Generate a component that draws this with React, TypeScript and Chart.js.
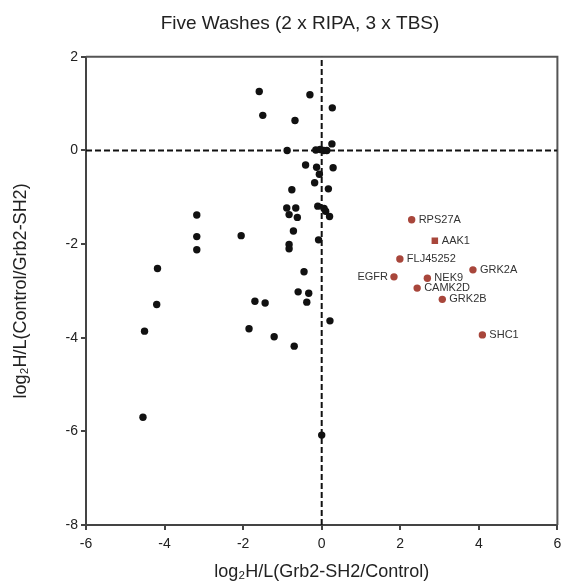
import React, { useEffect, useRef } from "react";
import { Chart, registerables } from "chart.js";

Chart.register(...registerables);

const chartTitle = "Five Washes (2 x RIPA, 3 x TBS)";
const xAxisTitle = "log₂H/L(Grb2-SH2/Control)";
const yAxisTitle = "log₂H/L(Control/Grb2-SH2)";
const xTicks = [-6, -4, -2, 0, 2, 4, 6];
const yTicks = [2, 0, -2, -4, -6, -8];
const xRange = [-6, 6];
const yRange = [-8, 2];

// background proteins (black)
const otherX = [
  -1.59, -0.3, -1.5, -0.68, 0.27, 0.26, -0.88, -0.15, -0.04, 0.05, 0.13,
  -0.41, -0.13, -0.06, -0.18, 0.29, -0.76, 0.17, -0.1, 0.06, 0.1, 0.2,
  -0.89, -0.66, -0.83, -0.62, -3.18, -3.18, -3.18, -2.05, -0.72, -0.08,
  -0.83, -0.83, -4.18, -4.2, -4.51, -4.55, -0.45, -0.6, -0.33, -0.38,
  -1.7, -1.44, -1.85, -1.21, -0.7, 0.21, 0.0,
];
const otherY = [
  1.26, 1.19, 0.75, 0.64, 0.91, 0.14, 0.0, 0.01, 0.02, 0.0, 0.0,
  -0.31, -0.36, -0.51, -0.69, -0.37, -0.84, -0.82, -1.19, -1.24, -1.3, -1.41,
  -1.23, -1.23, -1.37, -1.43, -1.38, -1.84, -2.12, -1.82, -1.72, -1.91,
  -2.01, -2.1, -2.52, -3.29, -3.86, -5.7, -2.59, -3.02, -3.05, -3.24,
  -3.22, -3.26, -3.81, -3.98, -4.18, -3.64, -6.08,
];

// highlighted proteins (red)
const hitNames = ["RPS27A", "AAK1", "FLJ45252", "GRK2A", "EGFR", "NEK9", "CAMK2D", "GRK2B", "SHC1"];
const hitX = [2.29, 2.88, 1.99, 3.85, 1.84, 2.69, 2.43, 3.07, 4.09];
const hitY = [-1.48, -1.93, -2.32, -2.55, -2.7, -2.73, -2.94, -3.18, -3.94];
const leftLabelNames = ["EGFR"];
const squareNames = ["AAK1"];

const FONT = "'Liberation Sans', Arial, Helvetica, sans-serif";

const framePlugin = {
  id: "frameAndLabels",
  beforeDatasetsDraw(chart: any) {
    const { ctx, chartArea } = chart;
    ctx.save();
    ctx.strokeStyle = "#555";
    ctx.lineWidth = 2;
    ctx.beginPath();
    ctx.moveTo(chartArea.left, chartArea.top);
    ctx.lineTo(chartArea.right, chartArea.top);
    ctx.lineTo(chartArea.right, chartArea.bottom);
    ctx.stroke();
    ctx.restore();
  },
  afterDatasetsDraw(chart: any) {
    const { ctx } = chart;
    const idx = chart.data.datasets.findIndex((d: any) => d.label === "hits");
    if (idx < 0) return;
    const meta = chart.getDatasetMeta(idx);
    ctx.save();
    ctx.font = `11px ${FONT}`;
    ctx.fillStyle = "#333";
    ctx.textBaseline = "middle";
    meta.data.forEach((pt: any, i: number) => {
      const name = hitNames[i];
      if (leftLabelNames.includes(name)) {
        ctx.textAlign = "right";
        ctx.fillText(name, pt.x - 6, pt.y);
      } else {
        ctx.textAlign = "left";
        ctx.fillText(name, pt.x + 7, pt.y);
      }
    });
    ctx.restore();
  },
};

export default function App() {
  const ref = useRef<HTMLCanvasElement | null>(null);

  useEffect(() => {
    if (!ref.current) return;
    const chart = new Chart(ref.current, {
      type: "scatter",
      data: {
        datasets: [
          {
            label: "hline",
            data: xRange.map((x) => ({ x, y: 0 })),
            showLine: true,
            borderColor: "#111",
            borderWidth: 2,
            borderDash: [6, 3],
            pointRadius: 0,
            order: 10,
          },
          {
            label: "vline",
            data: yRange.map((y) => ({ x: 0, y })),
            showLine: true,
            borderColor: "#111",
            borderWidth: 2,
            borderDash: [6, 3],
            pointRadius: 0,
            order: 10,
          },
          {
            label: "others",
            data: otherX.map((x, i) => ({ x, y: otherY[i] })),
            backgroundColor: "#111",
            borderColor: "#111",
            pointRadius: 3.7,
            borderWidth: 0,
            order: 2,
          },
          {
            label: "hits",
            data: hitX.map((x, i) => ({ x, y: hitY[i] })),
            backgroundColor: "#a8463b",
            borderColor: "#a8463b",
            pointRadius: hitNames.map((n) => (squareNames.includes(n) ? 4.6 : 3.7)),
            pointStyle: hitNames.map((n) => (squareNames.includes(n) ? "rect" : "circle")),
            borderWidth: 0,
            order: 1,
          },
        ],
      },
      options: {
        responsive: false,
        animation: false,
        devicePixelRatio: 1,
        layout: { padding: { left: 38, right: 0, top: 0, bottom: 0 } },
        plugins: {
          legend: { display: false },
          tooltip: { enabled: false },
          title: {
            display: true,
            text: chartTitle,
            color: "#222",
            font: { family: FONT, size: 19, weight: "normal" },
            padding: { top: 12, bottom: 22 },
          },
        },
        scales: {
          x: {
            type: "linear",
            min: xRange[0],
            max: xRange[1],
            afterBuildTicks: (s: any) => {
              s.ticks = xTicks.map((v) => ({ value: v }));
            },
            afterFit: (s: any) => {
              s.height = 58;
              s.paddingRight = 4;
            },
            ticks: {
              color: "#222",
              font: { family: FONT, size: 14 },
              padding: 6,
              maxRotation: 0,
            },
            grid: {
              display: true,
              drawOnChartArea: false,
              drawTicks: true,
              tickLength: 5,
              color: "#444",
              lineWidth: 2,
            },
            border: { display: true, color: "#444", width: 2 },
            title: {
              display: true,
              text: xAxisTitle,
              color: "#222",
              font: { family: FONT, size: 18 },
              padding: { top: 0, bottom: 0 },
            },
          },
          y: {
            type: "linear",
            min: yRange[0],
            max: yRange[1],
            afterBuildTicks: (s: any) => {
              s.ticks = yTicks.map((v) => ({ value: v }));
            },
            afterFit: (s: any) => {
              s.width = 48;
            },
            ticks: {
              color: "#222",
              font: { family: FONT, size: 14 },
              padding: 3,
            },
            grid: {
              display: true,
              drawOnChartArea: false,
              drawTicks: true,
              tickLength: 5,
              color: "#444",
              lineWidth: 2,
            },
            border: { display: true, color: "#444", width: 2 },
            title: {
              display: true,
              text: yAxisTitle,
              color: "#222",
              font: { family: FONT, size: 18 },
              padding: { top: -28, bottom: 0 },
            },
          },
        },
      },
      plugins: [framePlugin],
    } as any);
    return () => chart.destroy();
  }, []);

  return (
    <div style={{ position: "absolute", left: 0, top: 0, width: 562, height: 583 }}>
      <canvas ref={ref} width={562} height={583} style={{ display: "block" }} />
    </div>
  );
}
